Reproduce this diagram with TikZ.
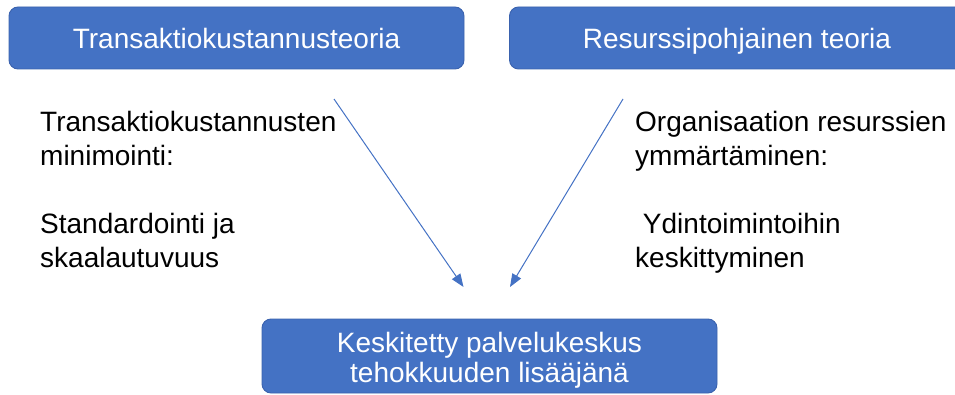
\documentclass[tikz,border=0pt]{standalone}
\usepackage{fontspec}
\setmainfont{Liberation Sans}
\usetikzlibrary{arrows.meta}
\definecolor{boxblue}{HTML}{4472C4}
\definecolor{boxedge}{HTML}{3A62AE}
\tikzset{
  theorybox/.style={draw=boxedge, line width=0.9pt, fill=boxblue, rounded corners=9pt,
    minimum width=455pt, inner sep=0pt},
  boxlabel/.style={text=white, font=\fontsize{28}{30}\selectfont, inner sep=0pt},
  bodyline/.style={anchor=base west, inner sep=0pt, font=\fontsize{28}{33.8}\selectfont},
  flow/.style={draw=boxblue, line width=1pt, -{Triangle[length=13pt,width=10pt]}}
}
\begin{document}
\begin{tikzpicture}[x=1pt,y=1pt]
  \useasboundingbox (0,0) rectangle (955,394);
  \clip (0,0) rectangle (955,394);

  % theory boxes on top
  \node[theorybox, minimum height=62pt] (tkt) at (236.5,356) {};
  \node[boxlabel, anchor=base] (tktl) at (236.5,345.5) {Transaktiokustannusteoria};
  \node[theorybox, minimum height=62pt] (rbv) at (737,356) {};
  \node[boxlabel, anchor=base] (rbvl) at (737,345.5) {Resurssipohjainen teoria};

  % result box at the bottom
  \node[theorybox, minimum height=74pt] (ssc) at (489.5,38) {};
  \node[boxlabel, anchor=base] (ssc1) at (489.5,42) {Keskitetty palvelukeskus};
  \node[boxlabel, anchor=base] (ssc2) at (489.5,12) {tehokkuuden lisääjänä};

  % left-hand explanation
  \node[bodyline] (l1) at (40,262) {Transaktiokustannusten};
  \node[bodyline] (l2) at (40,228.2) {minimointi:};
  \node[bodyline] (l3) at (40,160.6) {Standardointi ja};
  \node[bodyline] (l4) at (40,126.8) {skaalautuvuus};

  % right-hand explanation
  \node[bodyline] (r1) at (635,262) {Organisaation resurssien};
  \node[bodyline] (r2) at (635,228.2) {ymmärtäminen:};
  \node[bodyline] (r3) at (635,160.6) {\ Ydintoimintoihin};
  \node[bodyline] (r4) at (635,126.8) {keskittyminen};

  % converging arrows
  \coordinate (la) at (334,295);
  \coordinate (lb) at (463.5,107);
  \coordinate (ra) at (623,295);
  \coordinate (rb) at (510,107);
  \draw[flow] (la) -- (lb);
  \draw[flow] (ra) -- (rb);
\end{tikzpicture}
\end{document}
